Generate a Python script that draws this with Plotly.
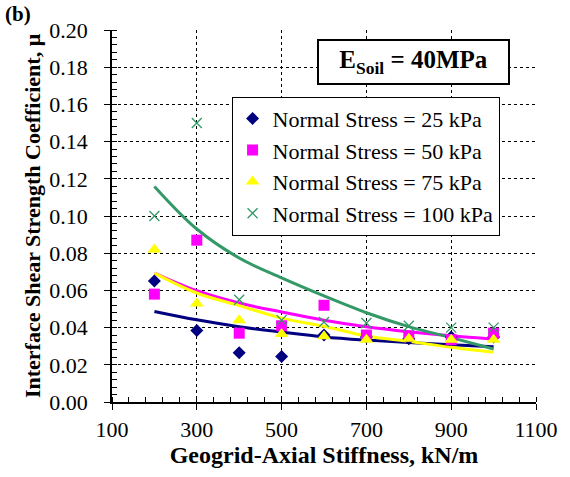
import plotly.graph_objects as go

stiffness = [200, 300, 400, 500, 600, 700, 800, 900, 1000]

mu_25 = [0.065, 0.0385, 0.0265, 0.0245, 0.036, 0.035, 0.034, 0.035, 0.035]
mu_50 = [0.058, 0.087, 0.037, 0.041, 0.052, 0.036, 0.0355, 0.0335, 0.037]
mu_75 = [0.082, 0.053, 0.044, 0.0365, 0.0353, 0.0335, 0.034, 0.0335, 0.0335]
mu_100 = [0.100, 0.150, 0.055, 0.044, 0.043, 0.0425, 0.041, 0.040, 0.040]

# trend curves
trend_x = [200, 300, 400, 500, 600, 700, 800, 900, 1000]
trend_25 = [0.0487, 0.0442, 0.0405, 0.0376, 0.0350, 0.0333, 0.0320, 0.0308, 0.0297]
trend_50 = [0.0693, 0.0598, 0.0532, 0.0484, 0.0440, 0.0405, 0.0378, 0.0356, 0.0338]
trend_75 = [0.0693, 0.0586, 0.0518, 0.0451, 0.0407, 0.0355, 0.0326, 0.0294, 0.0267]
trend_100 = [0.1159, 0.0930, 0.0774, 0.0667, 0.0570, 0.0480, 0.0405, 0.0346, 0.0285]

names = ["Normal Stress = 25 kPa", "Normal Stress = 50 kPa",
         "Normal Stress = 75 kPa", "Normal Stress = 100 kPa"]
colors = ["#000080", "#FF00FF", "#FFFF00", "#339966"]
symbols = ["diamond", "square", "triangle-up", "x-thin-open"]
sizes = [10, 11, 12, 10]
series = [mu_25, mu_50, mu_75, mu_100]
trends = [trend_25, trend_50, trend_75, trend_100]

FONT = "Liberation Serif"
fig = go.Figure()

for t, c in zip(trends, colors):
    fig.add_trace(go.Scatter(x=trend_x, y=t, mode="lines", line=dict(color=c, width=3, shape="spline"),
                             showlegend=False, hoverinfo="skip"))

for s, n, c, sym, sz in zip(series, names, colors, symbols, sizes):
    if sym == "x-thin-open":
        marker = dict(symbol=sym, size=sz, color=c, line=dict(color=c, width=1.3))
    else:
        marker = dict(symbol=sym, size=sz, color=c, line=dict(width=0))
    fig.add_trace(go.Scatter(x=stiffness, y=s, mode="markers", name=n, marker=marker))

fig.update_layout(
    width=570, height=477,
    margin=dict(l=112, r=26, t=30, b=75),
    paper_bgcolor="white", plot_bgcolor="white",
    font=dict(family=FONT, color="black", size=22),
    showlegend=True,
    legend=dict(x=0.282, y=0.821, xanchor="left", yanchor="top",
                bgcolor="white", bordercolor="black", borderwidth=1,
                font=dict(family=FONT, size=22), itemwidth=30, tracegroupgap=0),
    xaxis=dict(range=[100, 1100], tickvals=[100, 300, 500, 700, 900, 1100],
               ticks="outside", ticklen=6, tickcolor="black", ticklabelstandoff=1,
               showline=True, linecolor="black", linewidth=1.5,
               showgrid=True, gridcolor="black", griddash="dot", gridwidth=1,
               zeroline=False, tickfont=dict(size=22),
               minor=dict(dtick=40, tick0=100, ticks="inside", ticklen=5, tickcolor="black", showgrid=False),
               title=dict(text="<b>Geogrid-Axial Stiffness, kN/m</b>", font=dict(size=24), standoff=4)),
    yaxis=dict(range=[0, 0.2], dtick=0.02, tickformat=".2f",
               ticks="outside", ticklen=6, tickcolor="black", ticklabelstandoff=12,
               showline=True, linecolor="black", linewidth=1.5,
               showgrid=True, gridcolor="black", griddash="dot", gridwidth=1,
               zeroline=False, tickfont=dict(size=22),
               minor=dict(dtick=0.004, ticks="inside", ticklen=5, tickcolor="black", showgrid=False),
               title=dict(text="<b>Interface Shear Strength Coefficient, μ</b>", font=dict(size=22), standoff=3)),
)

fig.add_annotation(xref="paper", yref="paper", x=0.483, y=0.976, xanchor="left", yanchor="top",
                   text="<b>E<sub>Soil</sub> = 40MPa</b>", showarrow=False,
                   font=dict(family=FONT, size=25), bordercolor="black", borderwidth=2,
                   borderpad=2, bgcolor="white", width=185, height=38)
fig.add_annotation(xref="paper", yref="paper", x=-0.258, y=1.08, xanchor="left", yanchor="top",
                   text="<b>(b)</b>", showarrow=False, font=dict(family=FONT, size=21))

fig.write_html("out.html")
